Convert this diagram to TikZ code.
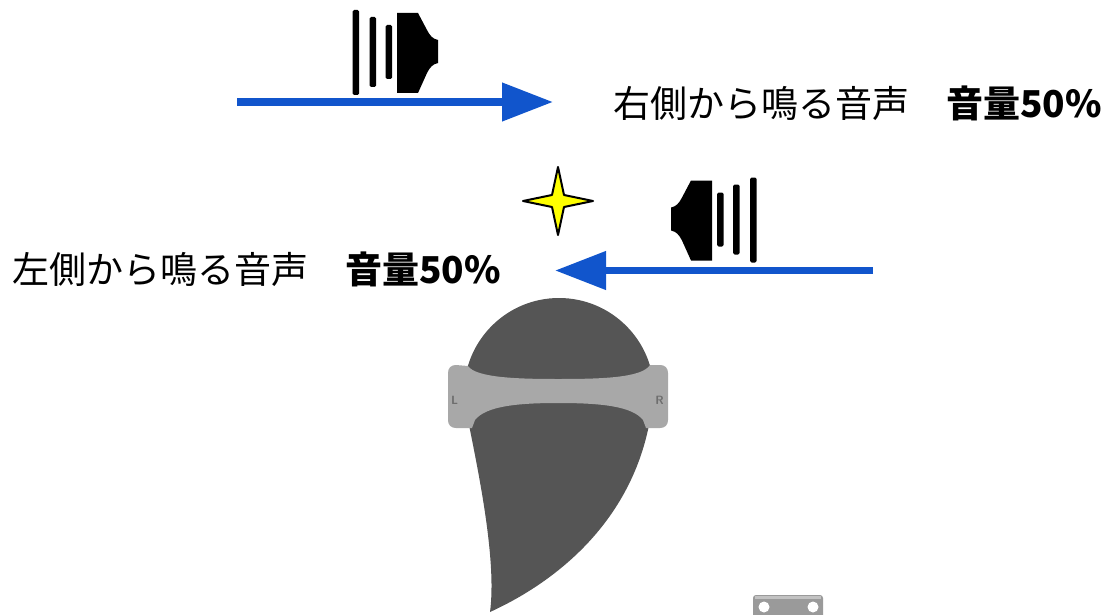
\documentclass[tikz,border=0pt]{standalone}
\usepackage{fontspec}
\newfontfamily\jpfont{Noto Sans CJK JP}
\usetikzlibrary{arrows.meta}

\definecolor{arrowblue}{HTML}{1155CC}
\definecolor{headgray}{HTML}{555555}
\definecolor{bandgray}{HTML}{A8A8A8}
\definecolor{markgray}{HTML}{6E6E6E}
\definecolor{devicegray}{HTML}{9A9A9A}
\definecolor{starfill}{HTML}{FFFF00}

\tikzset{
  flow/.style={draw=arrowblue, line width=7.5pt, -{Triangle[length=51pt,width=37pt]}},
  caption/.style={font=\jpfont\fontsize{37}{40}\selectfont, anchor=base west, inner sep=0pt},
  bandmark/.style={font=\sffamily\bfseries\fontsize{12}{12}\selectfont, text=markgray, inner sep=0pt},
  soundbar/.style={fill=black, rounded corners=1.5pt},
  speaker/.pic={
    % sound waves
    \fill[soundbar] (-43,-42.5) rectangle (-36.5,42.5);
    \fill[soundbar] (-26,-35.5) rectangle (-19.5,34.5);
    \fill[soundbar] (-10,-27.5) rectangle (-3.5,26.5);
    % speaker body
    \fill[black] (1.5,-39.5) -- (22.5,-39.5) -- (31.5,-22.5)
      .. controls (34.5,-16.5) and (37.5,-13.5) .. (42.5,-12.5)
      -- (42.5,10.5)
      .. controls (37.5,11.5) and (34.5,14.5) .. (31.5,20.5)
      -- (22.5,40.5) -- (1.5,40.5) -- cycle;
  }
}

\begin{document}
\begin{tikzpicture}[x=1pt, y=-1pt]
  \useasboundingbox (0,0) rectangle (1108,615);

  % sound from the right
  \pic at (395.5,52.5) {speaker};
  \coordinate (rightstart) at (237,102);
  \coordinate (rightend) at (553,102);
  \draw[flow] (rightstart) -- (rightend);
  \node[caption] (rightcap) at (613,117.5) {右側から鳴る音声　{\bfseries 音量50\%}};

  % sound from the left
  \pic[xscale=-1] at (713.5,220) {speaker};
  \coordinate (leftstart) at (873,270.5);
  \coordinate (leftend) at (555,270.5);
  \draw[flow] (leftstart) -- (leftend);
  \node[caption] (leftcap) at (12,283) {左側から鳴る音声　{\bfseries 音量50\%}};

  % sparkle
  \filldraw[fill=starfill, draw=black, line width=2pt, line join=round]
    (558,167) -- (564,195) -- (593,201) -- (564,207) -- (558,235)
    -- (552,207) -- (523,201) -- (552,195) -- cycle;

  % head seen from behind
  \fill[headgray] (559,393) circle[radius=95];
  \fill[headgray] (466,395) -- (468,420)
    .. controls (478,470) and (497,560) .. (490,612)
    .. controls (560,580) and (630,520) .. (649,425)
    -- (652,395) -- cycle;

  % headband
  \fill[bandgray] (456,365) -- (468,366)
    .. controls (476,378) and (520,379) .. (558,379)
    .. controls (600,379) and (642,378) .. (650,365)
    -- (660,365) .. controls (665,365) and (668,368) .. (668,373)
    -- (668,420) .. controls (668,425) and (665,428) .. (660,428)
    -- (646,428) -- (643,420)
    .. controls (632,406) and (600,403) .. (558,403)
    .. controls (518,403) and (486,406) .. (475,420)
    -- (472,428)
    -- (456,428) .. controls (451,428) and (448,425) .. (448,420)
    -- (448,373) .. controls (448,368) and (451,365) .. (456,365) -- cycle;
  \node[bandmark] (lmark) at (454.5,400.5) {L};
  \node[bandmark] (rmark) at (659.5,400.5) {R};

  % device at the lower edge
  \begin{scope}
    \clip (0,0) rectangle (1108,615);
    \fill[devicegray, rounded corners=3pt] (753,595) rectangle (823,630);
    \fill[devicegray!60!white] (755,595.5) rectangle (821,598.5);
    \fill[white] (764,607) circle[radius=5.5];
    \fill[white] (813,607) circle[radius=5.5];
  \end{scope}
\end{tikzpicture}
\end{document}
